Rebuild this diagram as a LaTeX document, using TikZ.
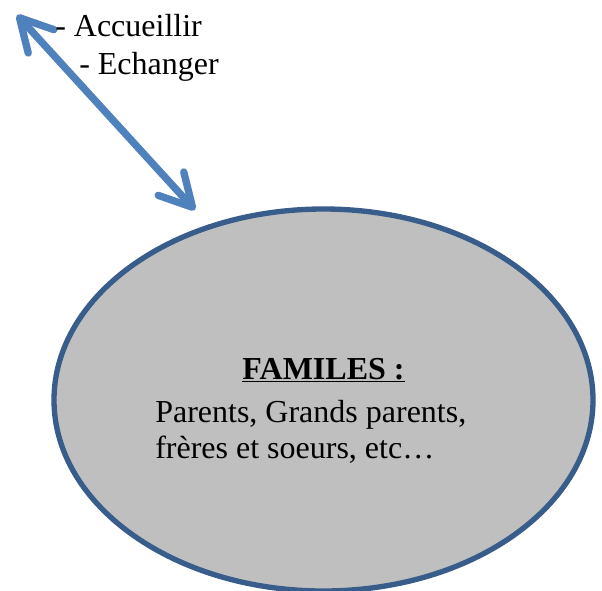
\documentclass[tikz,border=0pt]{standalone}
\usepackage{fontspec}
\setmainfont{Liberation Serif}
\usetikzlibrary{arrows.meta,shapes.geometric}
\definecolor{arrowblue}{HTML}{4F81BD}
\definecolor{edgeblue}{HTML}{385D8A}
\definecolor{fillgray}{HTML}{BFBFBF}
\tikzset{
  lbl/.style={anchor=base west, inner sep=0pt, font=\fontsize{24pt}{28pt}\selectfont},
  famtxt/.style={inner sep=0pt, font=\fontsize{24pt}{28pt}\selectfont},
  biarrow/.style={draw=arrowblue, line width=5.5pt, line cap=round,
    {Straight Barb[length=24pt,width=26pt,line cap=round,line join=round]}-{Straight Barb[length=24pt,width=26pt,line cap=round,line join=round]}},
  famille/.style={ellipse, draw=edgeblue, fill=fillgray, line width=4pt,
    minimum width=404.25pt, minimum height=286.5pt, inner sep=0pt}
}
\begin{document}
\begin{tikzpicture}[x=0.75pt,y=-0.75pt]
\useasboundingbox (0,0) rectangle (602,590);
\node[famille] (fam) at (323.5,400) {};
\coordinate (tipA) at (17,15);
\coordinate (tipB) at (195,210);
\draw[biarrow] (tipA) -- (tipB);
\node[lbl] (acc) at (55,36) {- Accueillir};
\node[lbl] (ech) at (79,74) {- Echanger};
\node[famtxt, anchor=base] (title) at (323.5,379) {\textbf{\underline{FAMILES :}}};
\node[lbl] (l1) at (155,422) {Parents, Grands parents,};
\node[lbl] (l2) at (155,458) {frères et soeurs, etc…};
\end{tikzpicture}
\end{document}
